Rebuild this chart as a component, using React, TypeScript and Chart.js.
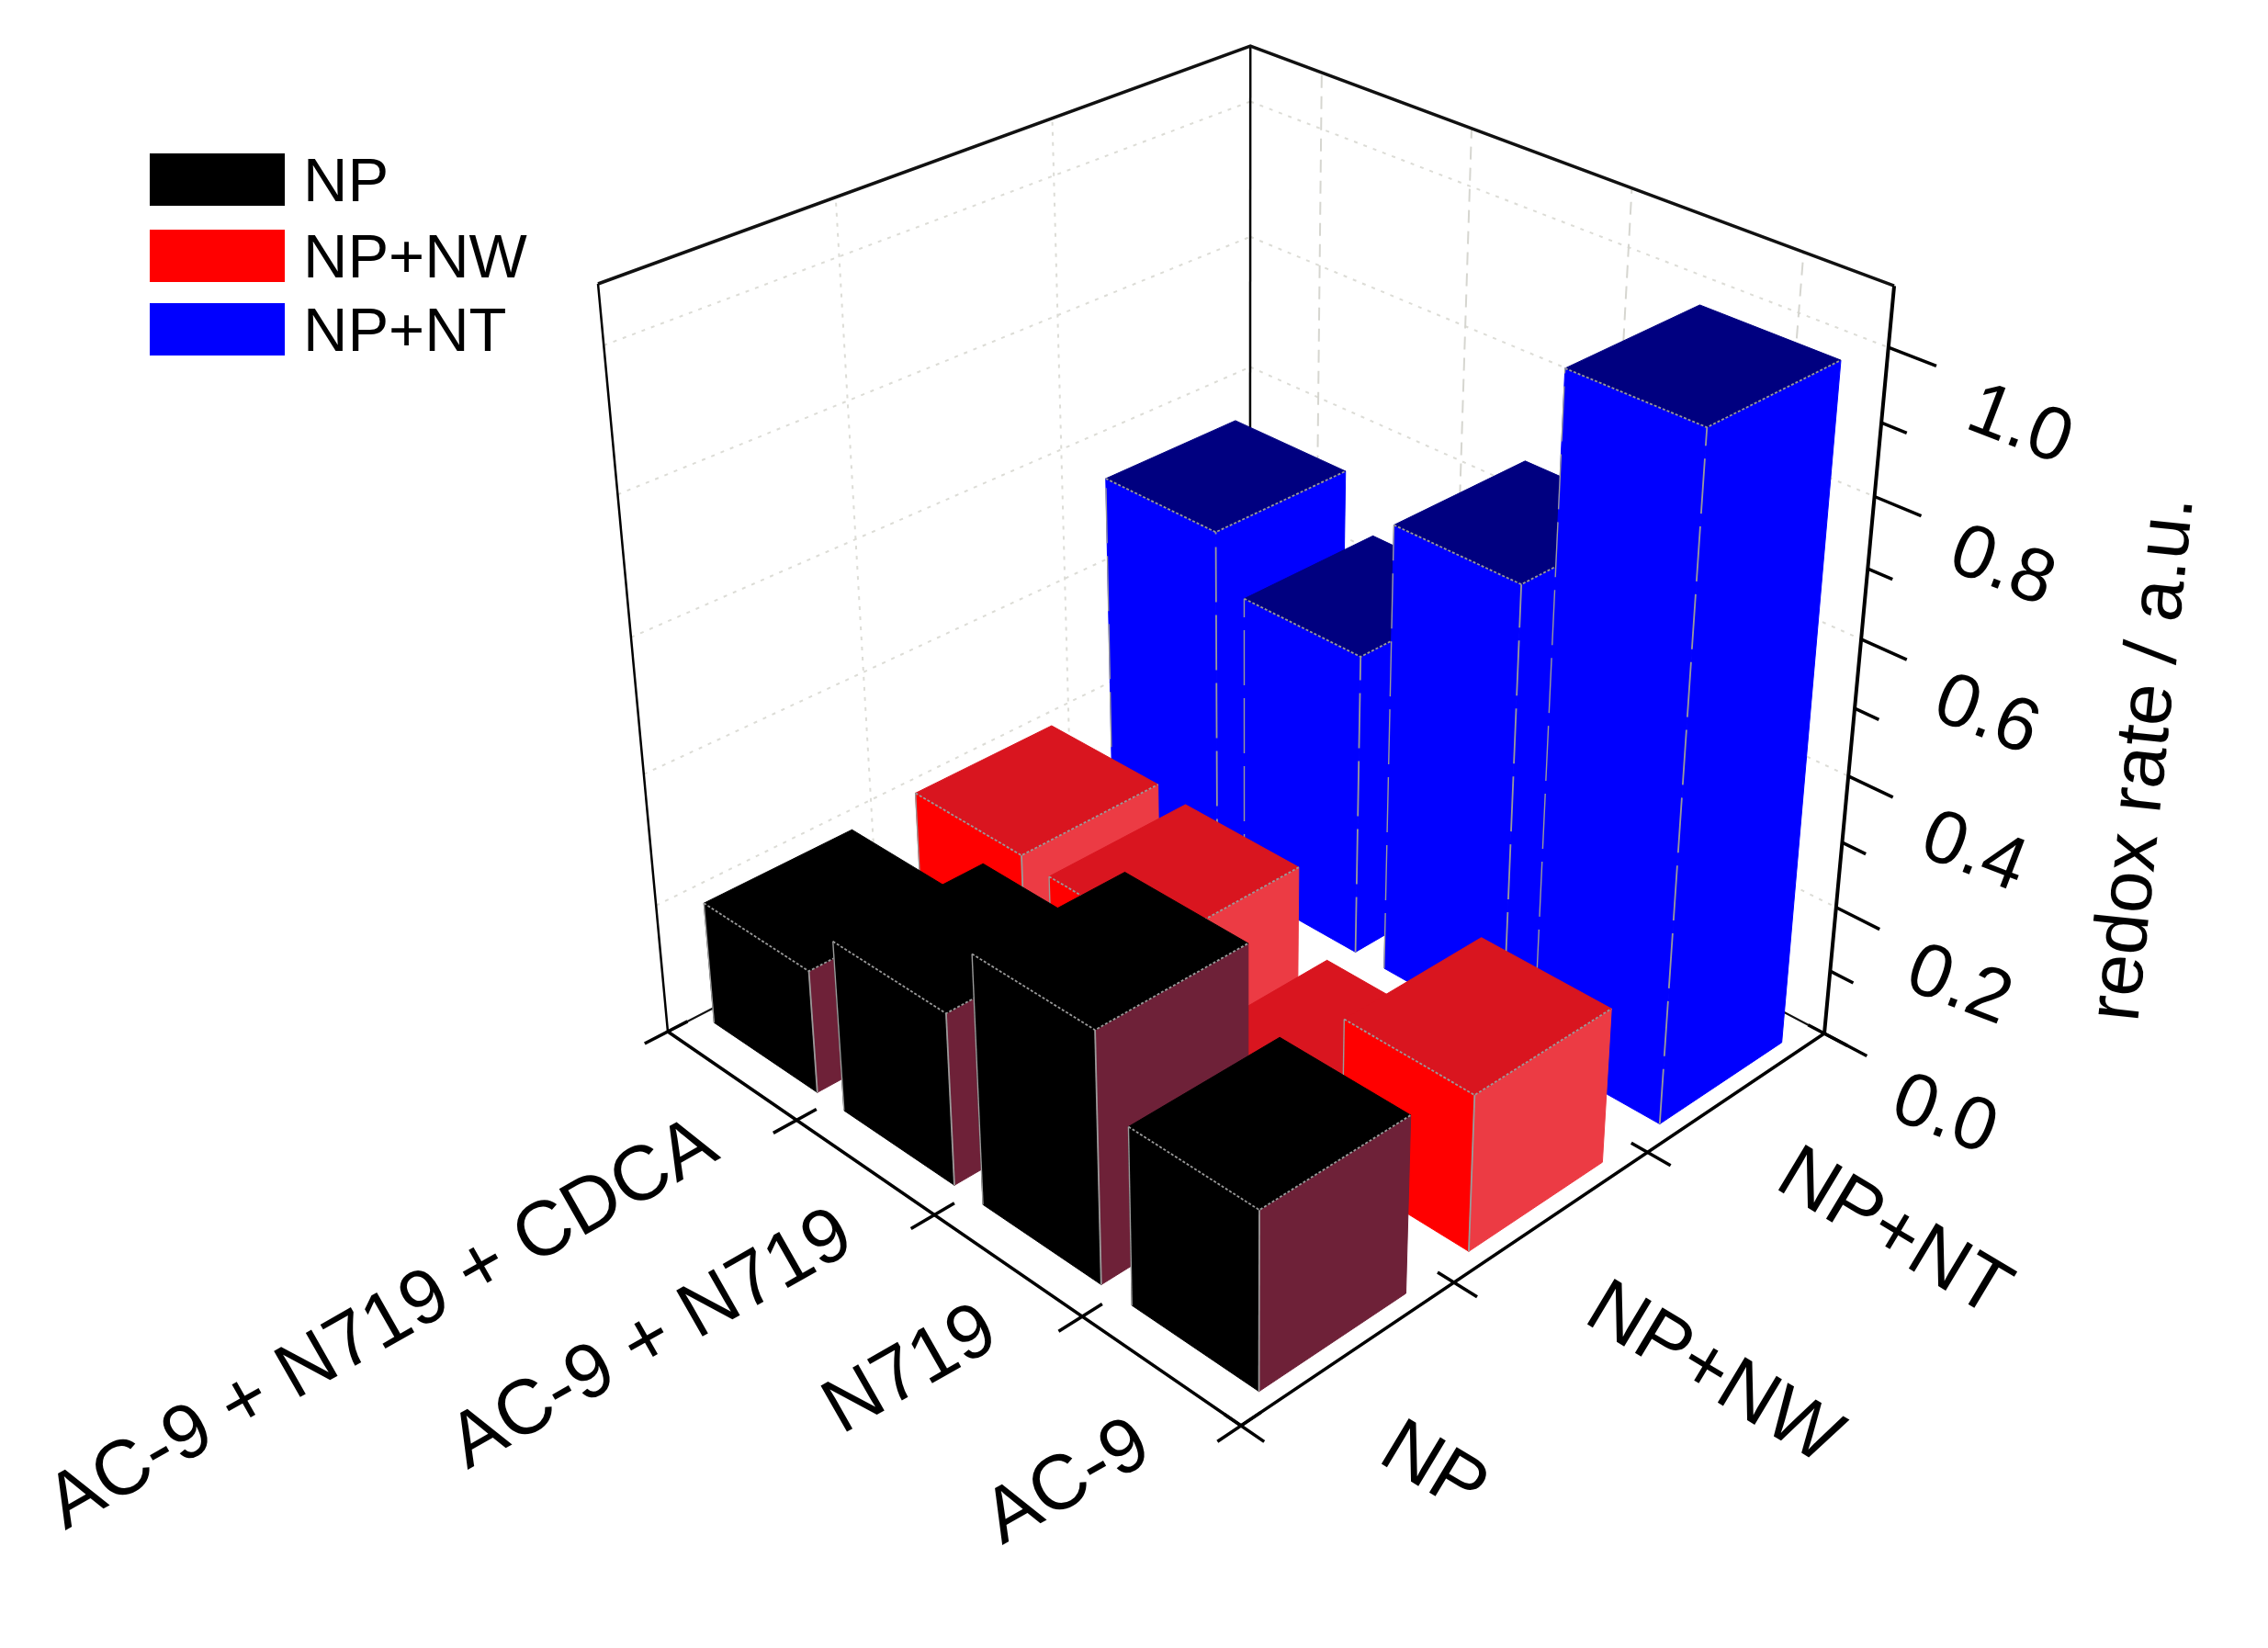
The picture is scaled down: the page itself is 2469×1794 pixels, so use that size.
import React, { useEffect, useRef } from "react";
import { Chart, registerables } from "chart.js";

Chart.register(...registerables);

const categories = ["AC-9 + N719 + CDCA", "AC-9 + N719", "N719", "AC-9"];
const seriesNames = ["NP", "NP+NW", "NP+NT"];
const npValues = [0.19, 0.262, 0.376, 0.266];
const nwValues = [0.198, 0.19, 0.068, 0.236];
const ntValues = [0.545, 0.465, 0.68, 0.993];
const valueTicks = [0, 0.2, 0.4, 0.6, 0.8, 1.0];
const minorTicks = [0.1, 0.3, 0.5, 0.7, 0.9];
const valueMax = 1.08;
const yTitle = "redox rate / a.u.";

const W = 2469;
const H = 1794;
const seriesValues = [npValues, nwValues, ntValues];
const palette = [
  { top: "#000000", left: "#000000", right: "#6e2138" },
  { top: "#d9151f", left: "#ff0000", right: "#ec3b44" },
  { top: "#000080", left: "#0000ff", right: "#0000ff" },
];

// Projective camera: homogeneous floor corners and the vertical vector
const pL = [836.05, 1291.45, 1.15];
const pF = [1351, 1552, 1];
const pR = [2283.9, 1293.75, 1.15];
const pE = [-168.05, -974.4, -0.1239];
const dA = pF.map((v, i) => v - pL[i]);
const dB = pR.map((v, i) => v - pF[i]);

type P = { x: number; y: number };
const project = (a: number, b: number, v: number): P => {
  const h = v / valueMax;
  const q = [0, 1, 2].map((i) => pL[i] + a * dA[i] + b * dB[i] + h * pE[i]);
  return { x: q[0] / q[2], y: q[1] / q[2] };
};

const face = (pts: P[], color: string) => ({
  data: [...pts, pts[0]],
  showLine: true,
  fill: "shape",
  backgroundColor: color,
  borderColor: color,
  borderWidth: 1,
  pointRadius: 0,
  tension: 0,
  clip: false,
});
const line = (pts: P[], color: string, width: number, dash: number[] = []) => ({
  data: pts,
  showLine: true,
  fill: false,
  borderColor: color,
  borderWidth: width,
  borderDash: dash,
  pointRadius: 0,
  tension: 0,
  clip: false,
});

function buildDatasets() {
  const list: any[] = [];
  const grid = "#dcdcd6";
  const gridDash = [4, 7];
  // wall grid
  for (const v of valueTicks.slice(1)) {
    list.push(line([project(0, 0, v), project(0, 1, v)], grid, 2, gridDash));
    list.push(line([project(0, 1, v), project(1, 1, v)], grid, 2, gridDash));
  }
  for (const b of [1 / 3, 2 / 3]) {
    list.push(line([project(0, b, 0), project(0, b, valueMax)], grid, 2, gridDash));
  }
  for (const a of [0.125, 0.375, 0.625, 0.875]) {
    list.push(line([project(a, 1, 0), project(a, 1, valueMax)], "#d6d6d0", 2, [14, 9]));
  }
  // frame behind the bars
  const frame = "#111111";
  list.push(line([project(0, 0, 0), project(0, 1, 0), project(1, 1, 0)], frame, 2));
  list.push(line([project(0, 1, 0), project(0, 1, valueMax)], "#000000", 2.5));
  list.push(line([project(0, 0, 0), project(0, 0, valueMax)], "#000000", 2.5));
  list.push(line([project(0, 0, valueMax), project(0, 1, valueMax), project(1, 1, valueMax)], frame, 3.5));
  list.push(line([project(1, 1, 0), project(1, 1, valueMax)], "#000000", 4));
  list.push(line([project(0, 0, 0), project(1, 0, 0), project(1, 1, 0)], "#000000", 3.5));

  // ticks on the axes
  for (let i = 0; i <= 4; i++) {
    const a = i / 4;
    list.push(line([project(a, -0.035, 0), project(a, 0.03, 0)], "#000000", 3.5));
  }
  for (let j = 0; j <= 3; j++) {
    const b = j / 3;
    list.push(line([project(0.975, b, 0), project(1.035, b, 0)], "#000000", 3.5));
  }
  for (const v of valueTicks) {
    list.push(line([project(1, 1, v), project(1.065, 1, v)], "#000000", 3.5));
  }
  for (const v of minorTicks) {
    list.push(line([project(1, 1, v), project(1.035, 1, v)], "#000000", 3.5));
  }

  // bars, painted from back to front
  const halfA = 0.1;
  const halfB = 0.115;
  for (let j = seriesValues.length - 1; j >= 0; j--) {
    const vals = seriesValues[j];
    const c = palette[j];
    const edge = "#9a9a9a";
    for (let i = 0; i < vals.length; i++) {
      const v = vals[i];
      const a0 = (i + 0.5) / 4 - halfA;
      const a1 = (i + 0.5) / 4 + halfA;
      const b0 = (j + 0.5) / 3 - halfB;
      const b1 = (j + 0.5) / 3 + halfB;
      list.push(face([project(a0, b0, 0), project(a1, b0, 0), project(a1, b0, v), project(a0, b0, v)], c.left));
      list.push(face([project(a1, b0, 0), project(a1, b1, 0), project(a1, b1, v), project(a1, b0, v)], c.right));
      list.push(face([project(a0, b0, v), project(a1, b0, v), project(a1, b1, v), project(a0, b1, v)], c.top));
      const dash = j === 2 ? [60, 14] : [];
      list.push(line([project(a1, b0, 0), project(a1, b0, v)], edge, 1.8, dash));
      list.push(line([project(a0, b0, 0), project(a0, b0, v)], edge, 1.4, dash));
      list.push(line([project(a0, b0, v), project(a1, b0, v), project(a1, b1, v)], edge, 1.8, [3, 2]));
    }
  }
  // Chart.js paints the last dataset first
  return list.reverse();
}

const FONT = '"Liberation Sans", Arial, sans-serif';
const catLabelPos = [
  [71, 1666],
  [509, 1600],
  [916, 1562],
  [1091, 1682],
];
const seriesLabelPos = [
  [1498, 1590],
  [1722, 1438],
  [1930, 1292],
];
const valueLabelPos = [
  [2055, 1216],
  [2071, 1075],
  [2087, 930],
  [2101, 781],
  [2118, 619],
  [2137, 465],
];
const legendRows = [167, 250, 330];

const textPlugin = {
  id: "labels3d",
  afterDraw(chart: any) {
    const { ctx, scales } = chart;
    const px = (x: number) => scales.x.getPixelForValue(x);
    const py = (y: number) => scales.y.getPixelForValue(y);
    const put = (t: string, x: number, y: number, deg: number, size: number) => {
      ctx.save();
      ctx.translate(px(x), py(y));
      ctx.rotate((deg * Math.PI) / 180);
      ctx.font = `${size}px ${FONT}`;
      ctx.fillStyle = "#000000";
      ctx.textAlign = "left";
      ctx.textBaseline = "alphabetic";
      ctx.fillText(t, 0, 0);
      ctx.restore();
    };
    categories.forEach((t, i) => put(t, catLabelPos[i][0], catLabelPos[i][1], -29.6, 84));
    seriesNames.forEach((t, i) => put(t, seriesLabelPos[i][0], seriesLabelPos[i][1], 31, 84));
    valueTicks.forEach((v, i) => put(v.toFixed(1), valueLabelPos[i][0], valueLabelPos[i][1], 21, 82));
    put(yTitle, 2327, 1114, -84, 82);
    // legend
    seriesNames.forEach((t, i) => {
      ctx.fillStyle = palette[i].left;
      ctx.fillRect(px(163), py(legendRows[i]), 147, 57);
      put(t, 330, legendRows[i] + 52, 0, 67);
    });
  },
};

export default function App() {
  const ref = useRef<HTMLCanvasElement>(null);
  useEffect(() => {
    const chart = new Chart(ref.current as HTMLCanvasElement, {
      type: "scatter",
      data: { datasets: buildDatasets() },
      options: {
        animation: false,
        responsive: false,
        devicePixelRatio: 1,
        layout: { padding: 0 },
        plugins: { legend: { display: false }, tooltip: { enabled: false }, title: { display: false } },
        scales: {
          x: { type: "linear", min: 0, max: W, display: false },
          y: { type: "linear", min: 0, max: H, reverse: true, display: false },
        },
      },
      plugins: [textPlugin],
    } as any);
    return () => chart.destroy();
  }, []);
  return (
    <div style={{ position: "absolute", left: 0, top: 0, width: W, height: H, background: "#ffffff" }}>
      <canvas ref={ref} width={W} height={H} style={{ display: "block" }} />
    </div>
  );
}
